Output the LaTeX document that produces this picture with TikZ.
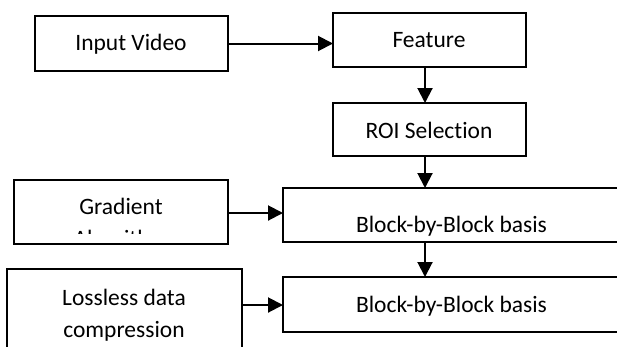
\documentclass[tikz,border=0pt]{standalone}
\usepackage{fontspec}
\setmainfont{Carlito}[Ligatures=NoCommon]
\usetikzlibrary{arrows.meta}
\begin{document}
\begin{tikzpicture}[x=1pt,y=-1pt,
  box/.style={draw,line width=2pt,rectangle,inner sep=0pt,outer sep=0pt},
  txt/.style={font=\fontsize{23.5}{32}\selectfont,align=center,inner sep=0pt,anchor=base},
  flow/.style={line width=2pt,-{Triangle[length=15pt,width=15pt]}}]
\useasboundingbox (0,0) rectangle (617,346);
\clip (0,0) rectangle (617,346);

% boxes
\node[box,minimum width=193pt,minimum height=55pt] (iv)   at (131.5,43.5) {};
\node[box,minimum width=193pt,minimum height=54pt] (feat) at (429.5,40) {};
\node[box,minimum width=193pt,minimum height=53pt] (roi)  at (429.5,129.5) {};
\node[box,minimum width=214pt,minimum height=64pt] (grad) at (121,212) {};
\node[box,minimum width=360pt,minimum height=54pt,anchor=west] (b1) at (283,215) {};
\node[box,minimum width=235pt,minimum height=100pt,anchor=north west] (loss) at (7,269) {};
\node[box,minimum width=360pt,minimum height=55pt,anchor=west] (b2) at (283,304.5) {};

% labels
\node[txt] (ivt)   at (131,50)  {Input Video};
\node[txt] (featt) at (429,47)  {Feature};
\node[txt] (roit)  at (429,138) {ROI Selection};
\node[txt] (b1t)   at (451.5,232) {Block-by-Block basis};
\node[txt] (b2t)   at (451.5,312) {Block-by-Block basis};
\node[txt] (losst) at (124,337) {Lossless data\\compression};
% second line of the gradient label is cut off by the box
\begin{scope}
  \clip (14,180) rectangle (228,233.5);
  \node[txt] (gradt) at (121,246) {Gradient\\Algorithm};
\end{scope}

% connectors
\coordinate (ax) at (425,0);
\draw[flow] (iv.east) -- (iv.east -| feat.west);
\draw[flow] (feat.south -| ax) -- (roi.north -| ax);
\draw[flow] (roi.south -| ax) -- (b1.north -| ax);
\draw[flow] (grad.east |- 0,213) -- (b1.west |- 0,213);
\draw[flow] (b1.south -| ax) -- (b2.north -| ax);
\draw[flow] (loss.east |- 0,305) -- (b2.west |- 0,305);
\end{tikzpicture}
\end{document}
